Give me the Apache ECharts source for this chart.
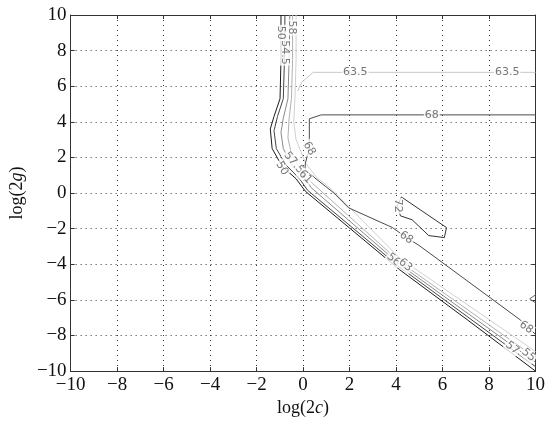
<!DOCTYPE html>
<html>
<head>
<meta charset="utf-8">
<script src="https://cdn.jsdelivr.net/npm/echarts@6/dist/echarts.min.js"></script>
<style>
  html, body { margin: 0; background: #fff; }
  #chart { width: 548px; height: 422px; }
</style>
</head>
<body>
<div id="chart"></div>
<script>
// contour lines, in (log(2c), log(2g)) units
var line50 = [[-0.95, 10], [-0.95, 7.5], [-0.99, 5.3], [-1.25, 4.3], [-1.41, 3.6], [-1.33, 2.5], [-0.9, 1.5], [-0.3, 0.8], [0.1, 0.1], [4.15, -4.3], [7.1, -7.15], [10, -10]];
var line545 = [[-0.78, 10], [-0.8, 7.5], [-0.85, 5.3], [-1.1, 4.3], [-1.25, 3.5], [-1.15, 2.5], [-0.75, 1.6], [-0.15, 0.8], [0.2, 0.15], [4.15, -4.15], [10, -9.75]];
var line58 = [[-0.57, 10], [-0.6, 7.5], [-0.65, 5.3], [-0.85, 4.2], [-0.95, 3.4], [-0.85, 2.5], [-0.5, 1.6], [0.1, 0.8], [0.35, 0.3], [4.15, -4.0], [10, -9.5]];
var line61 = [[-0.45, 10], [-0.45, 7.5], [-0.5, 5.3], [-0.6, 4.2], [-0.65, 3.1], [-0.5, 2.2], [-0.1, 1.3], [0.4, 0.55], [4.15, -3.85], [10, -9.25]];
var line62 = [[-0.3, 10], [-0.3, 7.5], [-0.35, 5.3], [-0.4, 4], [-0.3, 3], [0.1, 1.7], [0.6, 0.85], [1.2, 0.25], [4.15, -3.65], [10, -8.9]];
var line635 = [[-0.23, 5.72], [-0.06, 6.22], [0.44, 6.78], [10, 6.78]];
var line68 = [[10, 4.39], [0.78, 4.39], [0.27, 4.17], [0.27, 3.06], [0.27, 2.5], [0.1, 1.67], [0.08, 1.28], [0.36, 1.0], [1.33, 0], [1.96, -0.83], [3.85, -1.94], [4.44, -2.5], [4.99, -2.94], [9.33, -7.11], [10, -7.94]];
var line72 = [[4.06, -0.72], [4.23, -0.22], [6.17, -1.94], [6.08, -2.5], [5.41, -2.39], [4.69, -1.5], [4.19, -1.28], [4.06, -0.72]];
var edgeBit = [[10, -5.72], [9.75, -5.94], [10, -6.17]];

// contour labels: text, position, angle
var labelText = ['50', '54.5', '58', '63.5', '63.5', '68', '68', '68', '68', '72', '50', '57.5', '61', '56', '63', '57', '55'];
var labelPos = [[-0.95, 9.0], [-0.78, 7.9], [-0.47, 9.3], [2.25, 6.78], [8.78, 6.78], [5.54, 4.39], [0.27, 2.5], [4.44, -2.5], [9.6, -7.55], [4.06, -0.72], [-0.91, 1.39], [-0.4, 1.7], [0.1, 0.9], [3.9, -3.75], [4.4, -4.05], [9.0, -8.7], [9.7, -9.1]];
var labelAngle = [-90, -90, -90, 0, 0, 0, -60, -35, -35, -90, -60, -50, -45, -40, -40, -40, -40];

var xTicks = [-10, -8, -6, -4, -2, 0, 2, 4, 6, 8, 10];

var chart = echarts.init(document.getElementById('chart'));

function minus(v) {
    return String(v).replace('-', '\u2212');
}

function contour(data, color, width) {
    return {
        type: 'line',
        data: data,
        symbol: 'none',
        silent: true,
        xAxisIndex: 0,
        yAxisIndex: 0,
        lineStyle: { color: color, width: width || 1 },
        z: 3
    };
}

var labelData = labelText.map(function (t, i) {
    return {
        name: t,
        value: labelPos[i],
        label: { rotate: labelAngle[i] }
    };
});

var axisCommon = {
    type: 'value',
    min: xTicks[0],
    max: xTicks[xTicks.length - 1],
    interval: 2,
    axisLine: { onZero: false, lineStyle: { color: '#333', width: 1 } },
    axisTick: { inside: true, length: 4, lineStyle: { color: '#333' } }
};

var nameRich = {
    n: { fontFamily: 'Liberation Serif', fontSize: 18, color: '#111' },
    i: { fontFamily: 'Liberation Serif', fontStyle: 'italic', fontSize: 18, color: '#111' }
};

chart.setOption({
    animation: false,
    backgroundColor: '#fff',
    grid: { left: 64, right: 9, top: 15, bottom: 47 },
    xAxis: [
        Object.assign({}, axisCommon, {
            position: 'bottom',
            name: '{n|log(2}{i|c}{n|)}',
            nameLocation: 'middle',
            nameGap: 25,
            nameTextStyle: { rich: nameRich },
            axisLabel: { formatter: minus, margin: 4, fontFamily: 'Liberation Serif', fontSize: 19, color: '#111' },
            splitLine: { show: true, lineStyle: { color: '#333', type: [1, 4], width: 1 } }
        }),
        Object.assign({}, axisCommon, {
            position: 'top',
            axisLabel: { show: false },
            splitLine: { show: false }
        })
    ],
    yAxis: [
        Object.assign({}, axisCommon, {
            position: 'left',
            name: '{n|log(2}{i|g}{n|)}',
            nameLocation: 'middle',
            nameRotate: 90,
            nameGap: 38,
            nameTextStyle: { rich: nameRich },
            axisLabel: { formatter: minus, margin: 4, fontFamily: 'Liberation Serif', fontSize: 19, color: '#111' },
            splitLine: { show: true, lineStyle: { color: '#333', type: [1, 4], width: 1 } }
        }),
        Object.assign({}, axisCommon, {
            position: 'right',
            axisLabel: { show: false },
            splitLine: { show: false }
        })
    ],
    series: [
        contour(line62, '#d0d0d0'),
        contour(line61, '#b0b0b0'),
        contour(line58, '#888'),
        contour(line545, '#444'),
        contour(line50, '#1a1a1a'),
        contour(line635, '#c8c8c8'),
        contour(line68, '#4a4a4a'),
        contour(line72, '#333'),
        contour(edgeBit, '#666'),
        {
            type: 'scatter',
            data: labelData,
            symbolSize: 0,
            silent: true,
            z: 5,
            label: {
                show: true,
                position: 'inside',
                formatter: '{b}',
                fontFamily: 'DejaVu Sans',
                fontSize: 11,
                color: '#555',
                backgroundColor: '#fff',
                padding: [0, 1]
            }
        }
    ]
});
</script>
</body>
</html>
